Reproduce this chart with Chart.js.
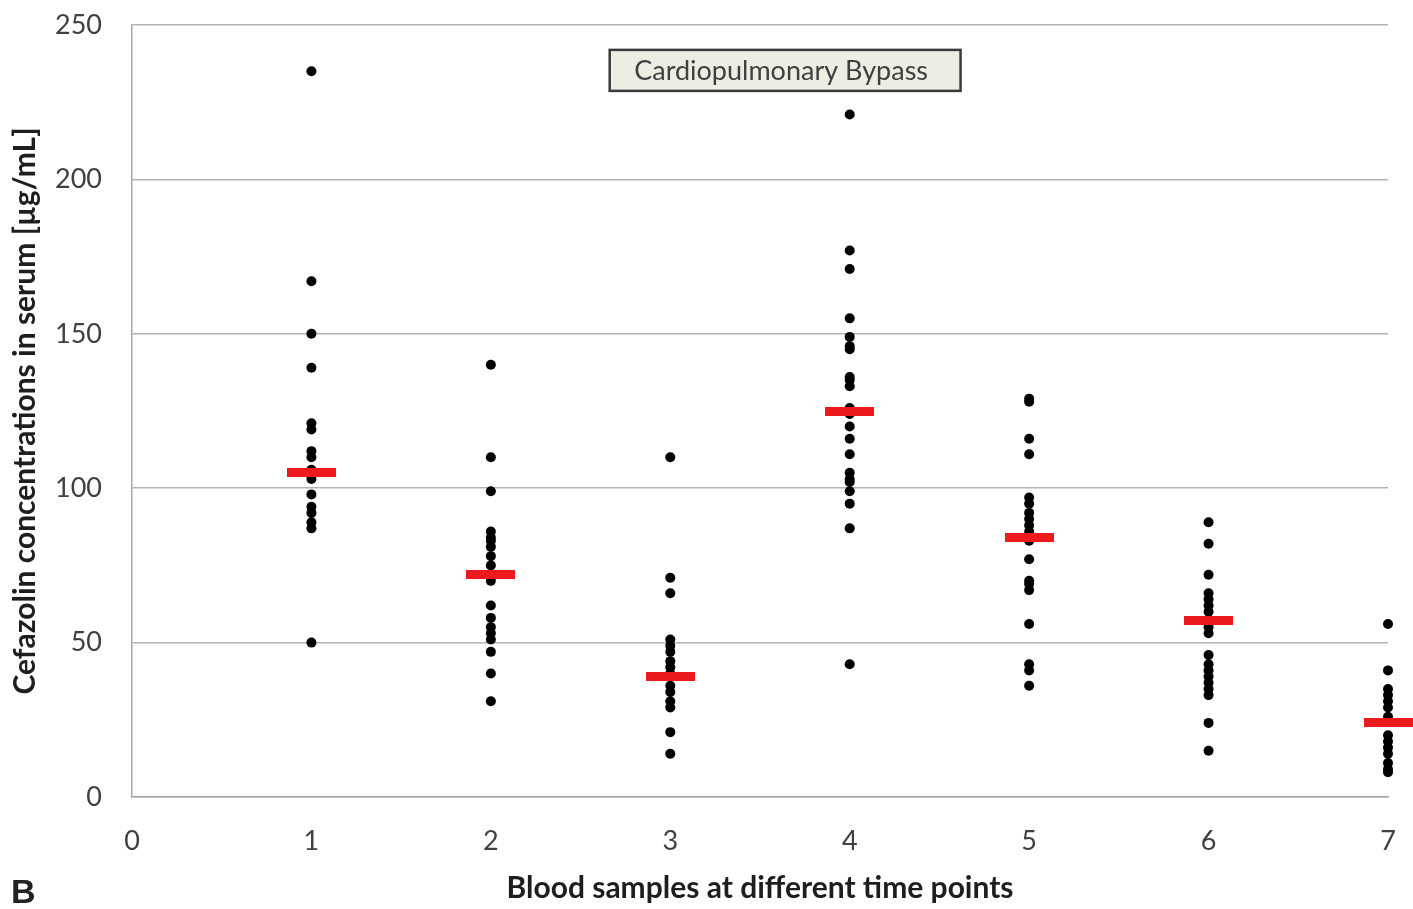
<!DOCTYPE html>
<html>
<head>
<meta charset="utf-8">
<script src="https://cdn.jsdelivr.net/npm/chart.js@4.4.1/dist/chart.umd.min.js"></script>
<style>
  body { margin: 0; background: #ffffff; }
  canvas { display: block; }
</style>
</head>
<body>
<canvas id="chart" width="1413" height="909"></canvas>
<script>
// Cefazolin in serum, one array per blood sample (time point)
const timePoints = [1, 2, 3, 4, 5, 6, 7];
const sample1 = [235, 167, 150, 139, 121, 119, 112, 110, 106, 103, 98, 94, 92, 89, 87, 50];
const sample2 = [140, 110, 99, 86, 84, 83, 81, 78, 75, 70, 62, 58, 55, 53, 51, 47, 40, 31];
const sample3 = [110, 71, 66, 51, 49, 47, 44, 42, 40, 36, 34, 31, 29, 21, 14];
const sample4 = [221, 177, 171, 155, 149, 146, 145, 136, 135, 133, 126, 124, 120, 116, 111, 105, 103, 102, 99, 95, 87, 43];
const sample5 = [129, 128, 116, 111, 97, 95, 92, 90, 88, 86, 83, 77, 70, 69, 67, 56, 43, 41, 36];
const sample6 = [89, 82, 72, 66, 64, 62, 60, 57, 55, 53, 46, 43, 41, 39, 37, 35, 33, 24, 15];
const sample7 = [56, 41, 35, 33, 31, 29, 26, 20, 18, 16, 14, 11, 9, 8];
const meanValues = [105, 72, 39, 125, 84, 57, 24];

const xTicks = [0, 1, 2, 3, 4, 5, 6, 7];
const yTicks = [0, 50, 100, 150, 200, 250];

const bypassText = "Cardiopulmonary Bypass";
const bypassAt = { x: 3.64, y: 235.3 };

const allSamples = [sample1, sample2, sample3, sample4, sample5, sample6, sample7];
const dotPoints = [];
allSamples.forEach((vals, i) => {
  vals.forEach((v) => dotPoints.push({ x: timePoints[i], y: v }));
});
const meanPoints = meanValues.map((v, i) => ({ x: timePoints[i], y: v }));

const FONT = "Lato, 'Open Sans', sans-serif";
const TEXT = "#404040";

// red dash used as the point style of the mean markers
const meanDash = document.createElement("canvas");
meanDash.width = 49;
meanDash.height = 9;
const dctx = meanDash.getContext("2d");
dctx.fillStyle = "#ec1a1f";
dctx.fillRect(0, 0, meanDash.width, meanDash.height);

// labelled box and the panel letter
const extrasPlugin = {
  id: "extras",
  afterDraw(chart) {
    const { ctx, scales } = chart;
    const cx = scales.x.getPixelForValue(bypassAt.x);
    const cy = scales.y.getPixelForValue(bypassAt.y);
    ctx.save();
    ctx.font = "27px " + FONT;
    const w = ctx.measureText(bypassText).width + 57;
    const h = 41;
    ctx.fillStyle = "#eeede3";
    ctx.strokeStyle = "#3a3a3a";
    ctx.lineWidth = 2.5;
    ctx.fillRect(cx - w / 2, cy - h / 2, w, h);
    ctx.strokeRect(cx - w / 2, cy - h / 2, w, h);
    ctx.fillStyle = TEXT;
    ctx.textAlign = "center";
    ctx.textBaseline = "middle";
    ctx.fillText(bypassText, cx - 4, cy + 1);

    ctx.font = "bold 34px 'Liberation Sans', Arial, sans-serif";
    ctx.fillStyle = "#222";
    ctx.textAlign = "left";
    ctx.textBaseline = "alphabetic";
    ctx.fillText("B", 11, 903);
    ctx.restore();
  },
};

new Chart(document.getElementById("chart"), {
  type: "scatter",
  data: {
    datasets: [
      {
        label: "mean",
        data: meanPoints,
        pointStyle: meanDash,
        pointRadius: 5,
        pointHoverRadius: 5,
        order: 0,
        clip: false,
      },
      {
        label: "samples",
        data: dotPoints,
        pointRadius: 5,
        pointHoverRadius: 5,
        backgroundColor: "#000",
        borderColor: "#000",
        pointBorderWidth: 0,
        order: 1,
        clip: false,
      },
    ],
  },
  options: {
    responsive: false,
    animation: false,
    events: [],
    layout: { padding: { top: 25, right: 25, left: 0, bottom: 0 } },
    plugins: {
      legend: { display: false },
      tooltip: { enabled: false },
    },
    scales: {
      x: {
        type: "linear",
        min: 0,
        max: 7,
        afterBuildTicks: (s) => { s.ticks = xTicks.map((v) => ({ value: v })); },
        afterFit: (s) => { s.height = 112; s.paddingLeft = 0; s.paddingRight = 0; },
        grid: { display: false, drawTicks: false },
        border: { color: "#a6a6a6", width: 1.5 },
        ticks: { color: TEXT, padding: 28, font: { family: FONT, size: 27 } },
        title: {
          display: true,
          text: "Blood samples at different time points",
          color: "#1e1e1e",
          padding: { top: 0, bottom: 3 },
          font: { family: FONT, size: 30, weight: "bold" },
        },
      },
      y: {
        min: 0,
        max: 250,
        afterBuildTicks: (s) => { s.ticks = yTicks.map((v) => ({ value: v })); },
        afterFit: (s) => { s.width = 132; s.paddingTop = 0; s.paddingBottom = 0; },
        grid: { color: "#b4b4b4", lineWidth: 1.5, drawTicks: false },
        border: { color: "#a6a6a6", width: 1.5 },
        ticks: { color: TEXT, padding: 30, font: { family: FONT, size: 27 } },
        title: {
          display: true,
          text: "Cefazolin concentrations in serum [µg/mL]",
          color: "#1e1e1e",
          padding: { top: 7, bottom: 0 },
          font: { family: FONT, size: 30, weight: "bold" },
        },
      },
    },
  },
  plugins: [extrasPlugin],
});
</script>
</body>
</html>
